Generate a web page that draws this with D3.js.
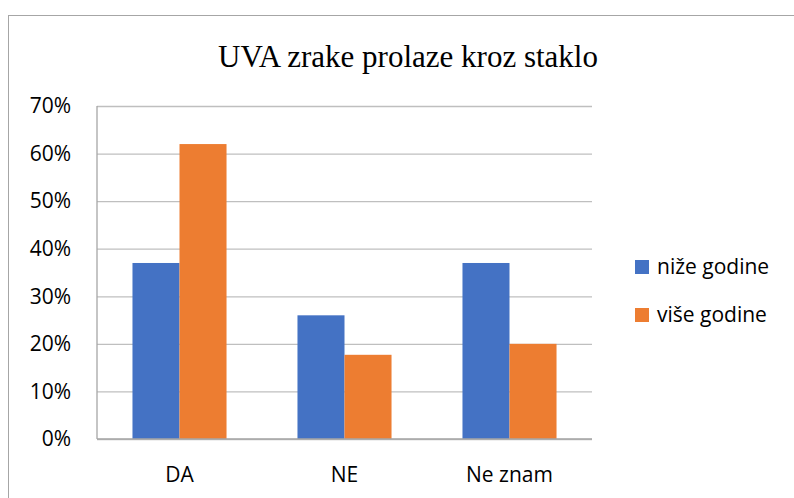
<!DOCTYPE html>
<html><head><meta charset="utf-8">
<script src="https://cdn.jsdelivr.net/npm/d3@7"></script>
<style>body{margin:0;background:#fff}svg{display:block}</style>
</head><body>
<svg id="c" width="794" height="498"></svg>
<script>
const categories = ["DA", "NE", "Ne znam"];
const seriesNames = ["niže godine", "više godine"];
const nizeGodine = [0.37, 0.26, 0.37];
const viseGodine = [0.62, 0.177, 0.20];
const yTicks = [0, 0.1, 0.2, 0.3, 0.4, 0.5, 0.6, 0.7];
const colors = ["#4472C4", "#ED7D31"];
const title = "UVA zrake prolaze kroz staklo";

const svg = d3.select("#c");
const font = "'Open Sans', Lato, sans-serif";
const fs = 21;
const m = {left: 97, right: 592, top: 106, bottom: 439};

svg.append("rect").attr("x", 8.5).attr("y", 15.5).attr("width", 900).attr("height", 600)
  .attr("fill", "none").attr("stroke", "#a6a6a6").attr("stroke-width", 1);

svg.append("text").attr("x", 408).attr("y", 67).attr("text-anchor", "middle")
  .attr("font-family", "'Liberation Serif', 'Times New Roman', serif").attr("font-size", 31)
  .attr("fill", "#000").text(title);

const x0 = d3.scaleBand().domain(categories).range([m.left, m.right]).paddingInner(0.43).paddingOuter(0.215);
const x1 = d3.scaleBand().domain(seriesNames).range([0, x0.bandwidth()]);
const y = d3.scaleLinear().domain([0, 0.7]).range([m.bottom, m.top]);

const yAxis = d3.axisLeft(y).tickValues(yTicks).tickFormat(d3.format(".0%")).tickSize(-(m.right - m.left)).tickPadding(26);
const gy = svg.append("g").attr("transform", `translate(${m.left},0)`).call(yAxis);
gy.select(".domain").remove();
gy.selectAll(".tick line").attr("stroke", "#bfbfbf").attr("stroke-width", 1.3);
gy.selectAll(".tick text").attr("font-family", font).attr("font-size", fs).attr("fill", "#000");

svg.append("line").attr("x1", m.left).attr("x2", m.left).attr("y1", m.top).attr("y2", m.bottom)
  .attr("stroke", "#a6a6a6").attr("stroke-width", 1.3);

const data = categories.map((c, i) => ({c, vals: [nizeGodine[i], viseGodine[i]]}));
const g = svg.append("g").selectAll("g").data(data).join("g")
  .attr("transform", d => `translate(${x0(d.c)},0)`);
g.selectAll("rect").data(d => d.vals.map((v, j) => ({v, s: seriesNames[j], j}))).join("rect")
  .attr("x", d => x1(d.s)).attr("width", x1.bandwidth())
  .attr("y", d => y(d.v)).attr("height", d => y(0) - y(d.v))
  .attr("fill", d => colors[d.j]);

svg.append("line").attr("x1", m.left).attr("x2", m.right).attr("y1", m.bottom).attr("y2", m.bottom)
  .attr("stroke", "#a6a6a6").attr("stroke-width", 1.3);

const xAxis = d3.axisBottom(x0).tickSize(0).tickPadding(28);
const gx = svg.append("g").attr("transform", `translate(0,${m.bottom})`).call(xAxis);
gx.select(".domain").remove();
gx.selectAll(".tick text").attr("font-family", font).attr("font-size", fs).attr("fill", "#000");

const leg = svg.append("g").selectAll("g").data(seriesNames).join("g")
  .attr("transform", (d, i) => `translate(635,${260 + i * 48})`);
leg.append("rect").attr("width", 14).attr("height", 14).attr("fill", (d, i) => colors[i]);
leg.append("text").attr("x", 22).attr("y", 7).attr("dy", "0.35em")
  .attr("font-family", font).attr("font-size", fs).attr("fill", "#000").text(d => d);
</script>
</body></html>
